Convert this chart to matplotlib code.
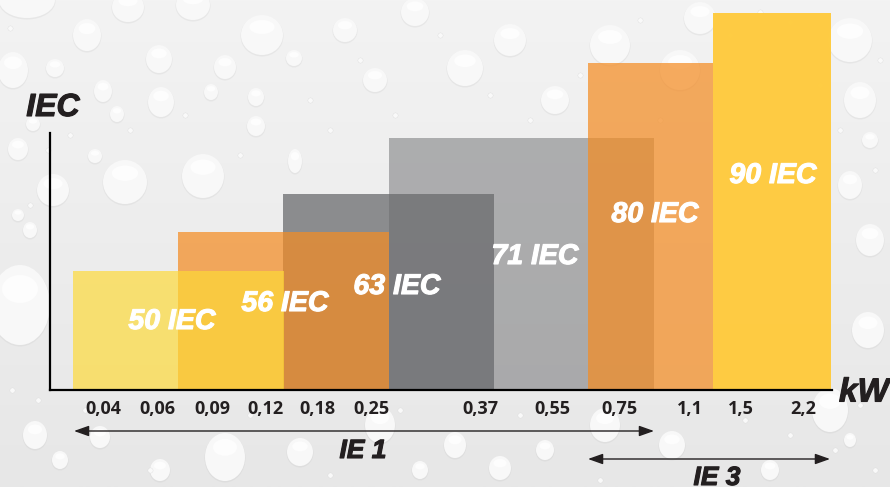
import numpy as np
import matplotlib
matplotlib.use("Agg")
import matplotlib.pyplot as plt
import matplotlib.patheffects as pe
from matplotlib.patches import Ellipse

# frame sizes, x is measured from the y axis, y from the baseline
W, H = 890, 487
AX_LEFT, AX_RIGHT, AX_TOP, AX_BOTTOM = 50, 832, 13, 390

frames        = ["71 IEC", "63 IEC", "56 IEC", "50 IEC", "80 IEC", "90 IEC"]
bar_start     = [339, 233, 128, 23, 538, 663]
bar_end       = [604, 444, 339, 234, 663, 781]
bar_height    = [252, 196, 158, 119, 327, 377]
bar_colors    = ["#646568", "#696A6D", "#F48C23", "#FEDA36", "#F48C23", "#FFCB3F"]
bar_alpha     = [0.48, 0.74, 0.72, 0.68, 0.72, 0.98]
frame_label_x = [485, 347, 235, 122, 605, 723]
frame_label_y = [133, 103, 86, 68, 175, 214]

kw_labels = ["0,04", "0,06", "0,09", "0,12", "0,18", "0,25", "0,37", "0,55", "0,75", "1,1", "1,5", "2,2"]
kw_pos    = [53, 107, 162, 215, 267, 321, 430, 502, 569, 640, 691, 753]

# water drops of the backdrop, in picture pixels (x, y, rx, ry)
drops = [
    (27, 0, 28, 18), (128, 7, 16, 15), (193, 5, 17, 15), (87, 35, 14, 16), (262, 35, 21, 20),
    (159, 59, 13, 14), (225, 67, 11, 12), (13, 70, 15, 18), (55, 68, 9, 9), (294, 58, 8, 8),
    (103, 91, 9, 11), (161, 102, 13, 15), (211, 92, 7, 8), (256, 97, 8, 9), (117, 114, 7, 8),
    (33, 124, 7, 7), (256, 126, 9, 10), (18, 149, 10, 11), (95, 156, 7, 7), (125, 182, 22, 22),
    (203, 176, 21, 22), (53, 190, 16, 16), (295, 161, 7, 12), (465, 68, 18, 18), (375, 80, 12, 12),
    (510, 40, 16, 16), (610, 45, 20, 20), (680, 70, 20, 20), (700, 18, 16, 16), (850, 40, 22, 22),
    (860, 100, 16, 18), (555, 100, 14, 14), (345, 30, 12, 12), (415, 12, 14, 14), (850, 185, 12, 14),
    (870, 140, 8, 8), (870, 240, 14, 16), (868, 330, 16, 18), (20, 305, 30, 40), (225, 457, 20, 24),
    (100, 437, 10, 11), (35, 435, 12, 14), (300, 452, 13, 14), (455, 445, 11, 13), (500, 468, 11, 12),
    (830, 410, 18, 22), (605, 425, 15, 17), (672, 445, 13, 14), (380, 425, 15, 18), (545, 450, 9, 10),
    (160, 470, 10, 11), (60, 460, 8, 9), (850, 440, 6, 7), (770, 470, 9, 10), (420, 470, 8, 9),
    (30, 230, 7, 8), (18, 215, 6, 6),
]
small_drops_x = [10, 40, 70, 48, 130, 185, 240, 310, 330, 360, 395, 440, 490, 530, 580, 640, 660, 730, 760, 790,
                 820, 880, 875, 840, 30, 12, 38, 85, 150, 250, 330, 400, 520, 600, 700, 745, 790, 835, 860, 875]
small_drops_y = [28, 100, 135, 150, 130, 115, 155, 100, 130, 60, 115, 35, 95, 120, 75, 20, 120, 35, 12, 22,
                 85, 60, 170, 130, 205, 390, 400, 410, 470, 415, 475, 410, 415, 480, 470, 420, 435, 450, 405, 470]

plt.rcParams["font.family"] = ["Liberation Sans", "DejaVu Sans"]

fig = plt.figure(figsize=(W / 100, H / 100), dpi=100)

# backdrop
bg = fig.add_axes([0, 0, 1, 1], zorder=0)
gradient = np.linspace(0, 1, 256).reshape(-1, 1)
bg.imshow(gradient, cmap=matplotlib.colors.LinearSegmentedColormap.from_list("bg", ["#F3F3F3", "#E7E7E7"]),
          extent=[0, W, H, 0], aspect="auto")
for x, y, rx, ry in drops:
    bg.add_patch(Ellipse((x, y + 1), 2 * rx + 1, 2 * ry + 1, color="#BDBDBD", alpha=0.2, lw=0))
    bg.add_patch(Ellipse((x, y), 2 * rx, 2 * ry, color="#F8F8F8", lw=0))
    bg.add_patch(Ellipse((x, y - ry * 0.4), rx * 1.2, ry * 0.7, color="#FDFDFD", lw=0))
bg.scatter(small_drops_x, small_drops_y, s=14, color="#F9F9F9", edgecolors="#D5D5D5", linewidths=0.2)
bg.set_xlim(0, W)
bg.set_ylim(H, 0)
bg.axis("off")

# chart
ax = fig.add_axes([AX_LEFT / W, 1 - AX_BOTTOM / H, (AX_RIGHT - AX_LEFT) / W, (AX_BOTTOM - AX_TOP) / H], zorder=1)
ax.patch.set_alpha(0)
for i in range(len(frames)):
    ax.bar(bar_start[i], bar_height[i], bar_end[i] - bar_start[i], align="edge",
           color=bar_colors[i], alpha=bar_alpha[i], linewidth=0)

heavy_white = [pe.withStroke(linewidth=0.8, foreground="white")]
heavy_dark = [pe.withStroke(linewidth=0.8, foreground="#231F20")]
for i in range(len(frames)):
    ax.text(frame_label_x[i], frame_label_y[i], frames[i], color="white", fontsize=20.5,
            fontweight="bold", style="italic", ha="center", va="center", path_effects=heavy_white)

ax.set_xlim(0, AX_RIGHT - AX_LEFT)
ax.set_ylim(0, AX_BOTTOM - AX_TOP)
ax.set_xticks(kw_pos)
ax.set_xticklabels(kw_labels, family="Open Sans", fontweight="bold", fontsize=13, color="#231F20")
ax.set_yticks([])
ax.tick_params(axis="x", length=0, pad=7)
ax.spines["top"].set_visible(False)
ax.spines["right"].set_visible(False)
ax.spines["left"].set_linewidth(1.6)
ax.spines["bottom"].set_linewidth(1.6)
ax.spines["left"].set_bounds(0, 257)

# axis names and the IE ranges
ax.text(3, 282, "IEC", fontsize=23, fontweight="bold", style="italic", color="#231F20", ha="center", va="center", path_effects=heavy_dark)
ax.text(814, -3, "kW", fontsize=24, fontweight="bold", style="italic", color="#231F20", ha="center", va="center", clip_on=False, path_effects=heavy_dark)
ax.text(313, -61, "IE 1", fontsize=19, fontweight="bold", style="italic", color="#231F20", ha="center", va="center", path_effects=heavy_dark)
ax.text(667, -88, "IE 3", fontsize=19, fontweight="bold", style="italic", color="#231F20", ha="center", va="center", path_effects=heavy_dark)

arrow = dict(arrowstyle="<|-|>,head_length=0.9,head_width=0.32", color="#231F20", lw=1, shrinkA=0, shrinkB=0)
ax.annotate("", xy=(24, -41), xytext=(604, -41), arrowprops=arrow, annotation_clip=False)
ax.annotate("", xy=(538, -69), xytext=(780, -69), arrowprops=arrow, annotation_clip=False)

fig.savefig("out.png", dpi=100)
